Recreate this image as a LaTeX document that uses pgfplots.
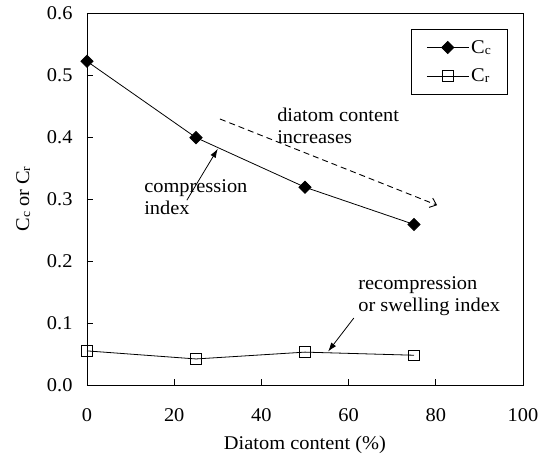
\documentclass[border=0pt]{standalone}
\usepackage{fontspec}
\setmainfont{Liberation Serif}
\newfontfamily\widefont[FakeStretch=1.05]{Liberation Serif}
\usepackage{pgfplots}
\pgfplotsset{compat=1.18}
\usetikzlibrary{arrows.meta,calc}

% small lowered index letter, as in C_c and C_r
\newcommand{\idx}[1]{\raisebox{-0.8pt}{\fontsize{13}{13}\selectfont #1}}
\newcommand{\annfont}{\widefont\fontsize{19.5}{22}\selectfont}

\begin{document}
\begin{tikzpicture}
\begin{axis}[
  scale only axis,
  width=436bp, height=372bp,
  xmin=0, xmax=100, ymin=0, ymax=0.6,
  xtick={0,20,...,100},
  ytick={0,0.1,...,0.6},
  tick align=inside,
  xtick pos=bottom, ytick pos=left,
  major tick length=6bp,
  /pgf/number format/assume math mode=true,
  yticklabel style={/pgf/number format/fixed,
    /pgf/number format/fixed zerofill,
    /pgf/number format/precision=1, xshift=-11bp},
  ticklabel style={font=\widefont\fontsize{19.5}{20}\selectfont},
  xticklabel style={yshift=-20bp},
  label style={font=\widefont\fontsize{19.5}{20}\selectfont},
  xlabel={Diatom content (\%)},
  ylabel={C\idx{c} or C\idx{r}},
  xlabel style={yshift=-8bp},
  ylabel style={yshift=10bp},
  axis line style={line width=0.8pt},
  every tick/.style={line width=0.8pt, black},
  legend style={at={(0.966,0.957)}, anchor=north east,
    draw=black, line width=0.8pt, font=\widefont\fontsize{19.5}{20}\selectfont,
    inner xsep=15bp, inner ysep=9bp, row sep=10bp},
  legend cell align=left,
  legend image code/.code={
    \draw[#1, mark repeat=2, mark phase=2]
      plot coordinates {(0bp,0bp) (21bp,0bp) (42bp,0bp)};},
  clip=false,
]
\addplot[black, line width=0.8pt, mark=square*, mark size=4.3bp,
  mark options={fill=black, solid, rotate=45}]
  coordinates {(0,0.522) (25,0.399) (50,0.319) (75,0.259)};
\addlegendentry{C\idx{c}}
\addplot[black, line width=0.8pt, mark=square, mark size=5.3bp,
  mark options={fill=white, solid, line width=0.8pt}]
  coordinates {(0,0.055) (25,0.042) (50,0.053) (75,0.048)};
\addlegendentry{C\idx{r}}

% annotations
\draw[black, line width=0.9pt, dash pattern=on 6bp off 4bp,
  -{Straight Barb[length=6bp,width=10bp]}]
  (axis cs:30.5,0.429) -- (axis cs:80.3,0.290);
\node[font=\annfont, align=left, anchor=base west, inner sep=0pt]
  at (axis cs:43.6,0.389) {diatom content\\increases};

\draw[black, line width=0.8pt, -{Latex[length=9bp,width=6bp]}]
  (axis cs:22.9,0.298) -- (axis cs:30.0,0.381);
\node[font=\annfont, align=left, anchor=base west, inner sep=0pt]
  at (axis cs:13.1,0.275) {compression\\index};

\draw[black, line width=0.8pt, -{Latex[length=9bp,width=6bp]}]
  (axis cs:61.2,0.108) -- (axis cs:55.3,0.054);
\node[font=\annfont, align=left, anchor=base west, inner sep=0pt]
  at (axis cs:62.2,0.118) {recompression\\or swelling index};
\end{axis}
\path[use as bounding box]
  ($(current axis.south west)+(-87bp,-79bp)$) rectangle
  ($(current axis.north east)+(25bp,13bp)$);
\end{tikzpicture}
\end{document}
